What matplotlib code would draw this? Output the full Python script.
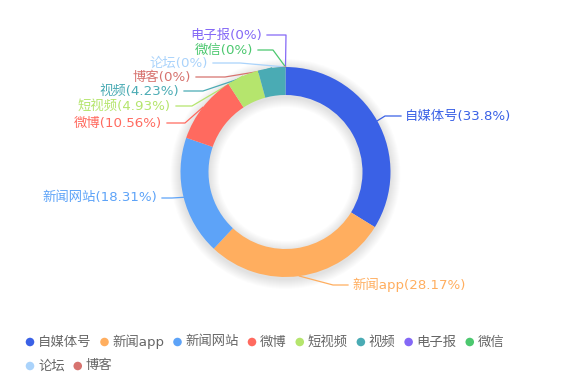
import matplotlib
matplotlib.use('Agg')
import matplotlib.pyplot as plt
from matplotlib.patches import Wedge
import numpy as np

plt.rcParams['font.family'] = ['DejaVu Sans', 'Noto Sans CJK SC']

# data
categories = ['自媒体号', '新闻app', '新闻网站', '微博', '短视频', '视频', '电子报', '微信', '论坛', '博客']
shares = [33.8, 28.17, 18.31, 10.56, 4.93, 4.23, 0, 0, 0, 0]
colors = ['#3A61E6', '#FFAE5F', '#5DA3F8', '#FF6A5F', '#B5E56D',
          '#4AABB4', '#8468F6', '#4CC86F', '#AAD3FB', '#D7736F']

W, H = 571, 382
cx, cy = 285.5, 172
r_out, ring = 105, 28

# label placement in pixels (y down): text y, elbow x, text x
label_layout = [
    (116, 385, 405),
    (285, 333, 352),
    (198, 172, 157),
    (123, 185, 162),
    (106, 192, 171),
    (91, 203, 179),
    (35, 286, 262),
    (50, 273, 253),
    (63, 240, 208),
    (77, 225, 191),
]


def py(y):
    return H - y


fig = plt.figure(figsize=(W / 100, H / 100), dpi=100)
ax = fig.add_axes([0, 0, 1, 1])

# soft shadow behind the ring
for k in range(1, 11):
    ax.add_patch(Wedge((cx, py(cy) - 2), r_out + k, 0, 360, width=ring + 2 * k,
                       facecolor='black', edgecolor='none', alpha=0.012, zorder=1))

wedges, _ = ax.pie(shares, colors=colors, radius=r_out, center=(cx, py(cy)),
                   startangle=90, counterclock=False,
                   wedgeprops=dict(width=ring, edgecolor='none'))
for w in wedges:
    w.set_zorder(3)

ax.set_xlim(0, W)
ax.set_ylim(0, H)
ax.set_aspect('auto')
ax.set_axis_off()

for w, name, val, col, (ty, ex, tx) in zip(wedges, categories, shares, colors, label_layout):
    mid = np.deg2rad((w.theta1 + w.theta2) / 2)
    ax0 = cx + r_out * np.cos(mid)
    ay0 = py(cy) + r_out * np.sin(mid)
    right = tx > ex
    end = tx - 4 if right else tx + 5
    ax.plot([ax0, ex, end], [ay0, py(ty), py(ty)], color=col, lw=0.9, zorder=2)
    ax.text(tx, py(ty), f'{name}({val:g}%)', color=col, fontsize=9.6,
            ha='left' if right else 'right', va='center', zorder=4)

# legend drawn by hand, wrapping like the original
fig.canvas.draw()
renderer = fig.canvas.get_renderer()
x, row_y = 30, 342
for name, col in zip(categories, colors):
    t = ax.text(x + 8, py(row_y), name, color='#666666', fontsize=9.6,
                ha='left', va='center', zorder=4)
    bb = t.get_window_extent(renderer)
    if bb.x1 > 541:
        x, row_y = 30, 366
        t.set_position((x + 8, py(row_y)))
        bb = t.get_window_extent(renderer)
    ax.scatter([x], [py(row_y)], s=38, color=col, edgecolors='none', zorder=4)
    x = bb.x1 + 13

fig.savefig('out.png', dpi=100)
